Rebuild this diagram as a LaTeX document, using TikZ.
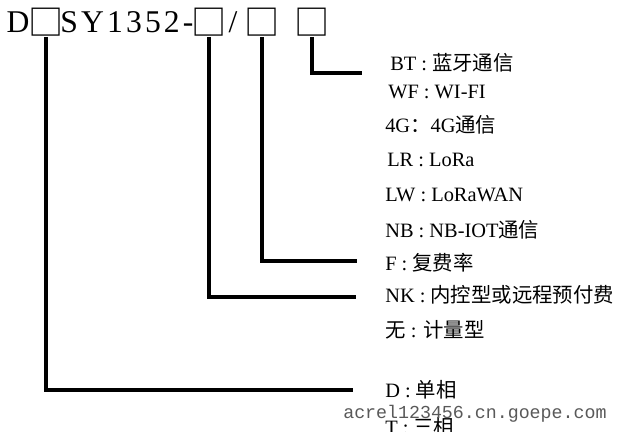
\documentclass[tikz,border=0pt]{standalone}
\usepackage{fontspec}
\setmainfont{Liberation Serif}
\newfontfamily\cjk{Noto Sans CJK SC}
\newfontfamily\codefont[LetterSpace=10]{Liberation Serif}
\newfontfamily\markfont{Liberation Mono}
\usetikzlibrary{positioning}
\newcommand{\slot}{\makebox[16pt]{□}}

\begin{document}
\begin{tikzpicture}[x=0.025cm,y=-0.025cm,
  code node/.style={anchor=base,inner sep=0pt,font=\codefont\fontsize{22.5}{24}\selectfont},
  box node/.style={inner sep=0pt,font=\cjk\fontsize{25}{28}\selectfont},
  item node/.style={anchor=west,inner sep=0pt,font=\fontsize{14.5}{17}\selectfont},
  lead/.style={line width=3.5pt}]

  \useasboundingbox (0,0) rectangle (640,432);

  \node[code node] (d) at (18,33) {D};
  \node[box node] (b1) at (46,22.5) {\slot};
  \node[code node,anchor=base west] (sy) at (60,33) {SY1352-};
  \node[box node] (b2) at (209,22.5) {\slot};
  \node[code node] (sl) at (233,33) {/};
  \node[box node] (b3) at (262,22.5) {\slot};
  \node[box node] (b4) at (312,22.5) {\slot};

  \node[item node] (bt) at (390,63) {BT : {\cjk 蓝牙通信}};
  \node[item node] (wf) at (388,92) {WF : WI-FI};
  \node[item node] (4g) at (385,125) {4G{\cjk ：}4G{\cjk 通信}};
  \node[item node] (lr) at (387,160) {LR : LoRa};
  \node[item node] (lw) at (385,195) {LW : LoRaWAN};
  \node[item node] (nb) at (385,230) {NB : NB-IOT{\cjk 通信}};
  \node[item node] (f) at (385,263) {F : {\cjk 复费率}};
  \node[item node] (nk) at (385,295) {NK : {\cjk 内控型或远程预付费}};
  \node[item node] (wu) at (385,330) {{\cjk 无} : {\cjk 计量型}};
  \node[item node] (dd) at (385,390) {D : {\cjk 单相}};
  \node[item node] (tt) at (385,427) {T : {\cjk 三相}};
  \node[anchor=west,inner sep=0pt,text=black!65,font=\markfont\fontsize{13}{15}\selectfont] (wm) at (343,414) {acrel123456.cn.goepe.com};

  \coordinate (e1) at (353,390);
  \coordinate (e2) at (356,297);
  \coordinate (e3) at (357,261);
  \coordinate (e4) at (362,73);

  \draw[lead] (b1.south) |- (e1);
  \draw[lead] (b2.south) |- (e2);
  \draw[lead] (b3.south) |- (e3);
  \draw[lead] (b4.south) |- (e4);
\end{tikzpicture}
\end{document}
